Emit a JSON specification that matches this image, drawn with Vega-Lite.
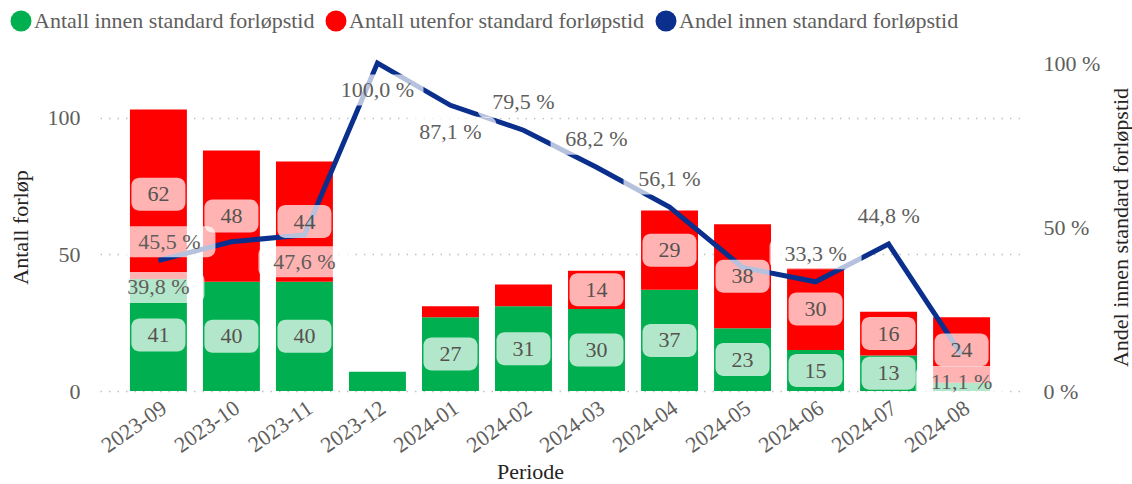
{
  "$schema": "https://vega.github.io/schema/vega-lite/v6.json",
  "width": 920,
  "height": 328,
  "autosize": {"type": "none"},
  "padding": {"left": 100, "top": 63, "right": 112, "bottom": 93},
  "background": "white",
  "config": {
    "view": {"stroke": null},
    "font": "Liberation Serif",
    "text": {"font": "Liberation Serif"},
    "axis": {"labelFont": "Liberation Serif", "titleFont": "Liberation Serif"},
    "legend": {"labelFont": "Liberation Serif"}
  },
  "datasets": {
    "antall": [
      {"Periode": "2023-09", "Serie": "Antall innen standard forløpstid", "Antall": 41},
      {"Periode": "2023-09", "Serie": "Antall utenfor standard forløpstid", "Antall": 62},
      {"Periode": "2023-10", "Serie": "Antall innen standard forløpstid", "Antall": 40},
      {"Periode": "2023-10", "Serie": "Antall utenfor standard forløpstid", "Antall": 48},
      {"Periode": "2023-11", "Serie": "Antall innen standard forløpstid", "Antall": 40},
      {"Periode": "2023-11", "Serie": "Antall utenfor standard forløpstid", "Antall": 44},
      {"Periode": "2023-12", "Serie": "Antall innen standard forløpstid", "Antall": 7},
      {"Periode": "2023-12", "Serie": "Antall utenfor standard forløpstid", "Antall": 0},
      {"Periode": "2024-01", "Serie": "Antall innen standard forløpstid", "Antall": 27},
      {"Periode": "2024-01", "Serie": "Antall utenfor standard forløpstid", "Antall": 4},
      {"Periode": "2024-02", "Serie": "Antall innen standard forløpstid", "Antall": 31},
      {"Periode": "2024-02", "Serie": "Antall utenfor standard forløpstid", "Antall": 8},
      {"Periode": "2024-03", "Serie": "Antall innen standard forløpstid", "Antall": 30},
      {"Periode": "2024-03", "Serie": "Antall utenfor standard forløpstid", "Antall": 14},
      {"Periode": "2024-04", "Serie": "Antall innen standard forløpstid", "Antall": 37},
      {"Periode": "2024-04", "Serie": "Antall utenfor standard forløpstid", "Antall": 29},
      {"Periode": "2024-05", "Serie": "Antall innen standard forløpstid", "Antall": 23},
      {"Periode": "2024-05", "Serie": "Antall utenfor standard forløpstid", "Antall": 38},
      {"Periode": "2024-06", "Serie": "Antall innen standard forløpstid", "Antall": 15},
      {"Periode": "2024-06", "Serie": "Antall utenfor standard forløpstid", "Antall": 30},
      {"Periode": "2024-07", "Serie": "Antall innen standard forløpstid", "Antall": 13},
      {"Periode": "2024-07", "Serie": "Antall utenfor standard forløpstid", "Antall": 16},
      {"Periode": "2024-08", "Serie": "Antall innen standard forløpstid", "Antall": 3},
      {"Periode": "2024-08", "Serie": "Antall utenfor standard forløpstid", "Antall": 24}
    ],
    "andel": [
      {"Periode": "2023-09", "Andel": 0.398},
      {"Periode": "2023-10", "Andel": 0.455},
      {"Periode": "2023-11", "Andel": 0.476},
      {"Periode": "2023-12", "Andel": 1.0},
      {"Periode": "2024-01", "Andel": 0.871},
      {"Periode": "2024-02", "Andel": 0.795},
      {"Periode": "2024-03", "Andel": 0.682},
      {"Periode": "2024-04", "Andel": 0.561},
      {"Periode": "2024-05", "Andel": 0.377},
      {"Periode": "2024-06", "Andel": 0.333},
      {"Periode": "2024-07", "Andel": 0.448},
      {"Periode": "2024-08", "Andel": 0.111}
    ]
  },
  "layer": [
    {
      "data": {"name": "antall"},
      "mark": {"type": "bar"},
      "encoding": {
        "x": {
          "field": "Periode", "type": "ordinal",
          "scale": {"paddingInner": 0.22, "paddingOuter": 0.41},
          "axis": {
            "title": "Periode", "titleFontSize": 22, "titleColor": "#252423", "titleFontWeight": "normal",
            "titleX": 430, "titleY": 87, "titleBaseline": "alphabetic", "titleAlign": "center",
            "labelAngle": -35, "labelFontSize": 22, "labelColor": "#605E5C",
            "domain": false, "ticks": false, "labelPadding": 6
          }
        },
        "y": {
          "field": "Antall", "type": "quantitative", "stack": "zero",
          "scale": {"domain": [0, 120], "nice": false},
          "axis": {
            "orient": "left", "values": [0, 50, 100], "title": "Antall forløp",
            "titleFontSize": 22, "titleColor": "#252423", "titleFontWeight": "normal",
            "titleAngle": -90, "titleX": -80, "titleY": 164, "titleAlign": "center", "titleBaseline": "middle",
            "labelFontSize": 22, "labelColor": "#605E5C", "labelPadding": 20,
            "domain": false, "ticks": false,
            "grid": true, "gridDash": [1.5, 7], "gridColor": "#C3C1BF", "gridWidth": 1.5
          }
        },
        "color": {
          "field": "Serie", "type": "nominal",
          "scale": {
            "domain": ["Antall innen standard forløpstid", "Antall utenfor standard forløpstid", "Andel innen standard forløpstid"],
            "range": ["#00B050", "#FF0000", "#0A2F8C"]
          },
          "legend": {
            "orient": "none", "legendX": -90, "legendY": -53, "direction": "horizontal",
            "title": null, "symbolType": "circle", "symbolSize": 440, "symbolStrokeWidth": 0,
            "labelFontSize": 22, "labelColor": "#605E5C", "labelOffset": 2, "columnPadding": 10, "labelLimit": 400
          }
        },
        "order": {"field": "Serie", "sort": "ascending"}
      }
    },
    {
      "data": {"name": "andel"},
      "mark": {"type": "line", "color": "#0A2F8C", "strokeWidth": 5},
      "encoding": {
        "x": {"field": "Periode", "type": "ordinal"},
        "y": {
          "field": "Andel", "type": "quantitative",
          "scale": {"domain": [0, 1], "nice": false},
          "axis": {
            "orient": "right", "values": [0, 0.5, 1],
            "labelExpr": "format(datum.value*100,'.0f') + ' %'",
            "title": "Andel innen standard forløpstid",
            "titleFontSize": 22, "titleColor": "#252423", "titleFontWeight": "normal",
            "titleAngle": -90, "titleX": 100, "titleY": 164, "titleAlign": "center", "titleBaseline": "middle",
            "labelFontSize": 22, "labelColor": "#605E5C", "labelPadding": 23,
            "domain": false, "ticks": false, "grid": false
          }
        }
      }
    },
    {
      "data": {"name": "antall"},
      "transform": [
        {"stack": "Antall", "groupby": ["Periode"], "sort": [{"field": "Serie", "order": "ascending"}], "as": ["s0", "s1"]},
        {"calculate": "(datum.s0 + datum.s1) / 2", "as": "Midt"},
        {"filter": "datum.Antall >= 10"}
      ],
      "mark": {"type": "rect", "width": 54, "height": 33, "cornerRadius": 8, "fill": "white", "opacity": 0.7},
      "encoding": {
        "x": {"field": "Periode", "type": "ordinal"},
        "y": {"field": "Midt", "type": "quantitative", "scale": {"domain": [0, 120], "nice": false}, "axis": null}
      }
    },
    {
      "data": {"name": "antall"},
      "transform": [
        {"stack": "Antall", "groupby": ["Periode"], "sort": [{"field": "Serie", "order": "ascending"}], "as": ["s0", "s1"]},
        {"calculate": "(datum.s0 + datum.s1) / 2", "as": "Midt"},
        {"filter": "datum.Antall >= 10"}
      ],
      "mark": {"type": "text", "fontSize": 22, "color": "#55524F", "align": "center", "baseline": "middle"},
      "encoding": {
        "x": {"field": "Periode", "type": "ordinal"},
        "y": {"field": "Midt", "type": "quantitative", "scale": {"domain": [0, 120], "nice": false}, "axis": null},
        "text": {"field": "Antall", "type": "quantitative"}
      }
    },
    {
      "data": {"name": "andel"},
      "transform": [{"filter": {"field": "Periode", "oneOf": ["2023-09", "2023-11", "2023-12", "2024-01", "2024-08"]}}],
      "mark": {"type": "rect", "width": 92, "height": 31, "cornerRadius": 8, "fill": "white", "opacity": 0.7, "yOffset": 27},
      "encoding": {
        "x": {"field": "Periode", "type": "ordinal"},
        "y": {"field": "Andel", "type": "quantitative", "scale": {"domain": [0, 1], "nice": false}, "axis": null}
      }
    },
    {
      "data": {"name": "andel"},
      "transform": [{"filter": {"field": "Periode", "oneOf": ["2024-02", "2024-03", "2024-04", "2024-06", "2024-07"]}}],
      "mark": {"type": "rect", "width": 92, "height": 31, "cornerRadius": 8, "fill": "white", "opacity": 0.7, "yOffset": -28},
      "encoding": {
        "x": {"field": "Periode", "type": "ordinal"},
        "y": {"field": "Andel", "type": "quantitative", "scale": {"domain": [0, 1], "nice": false}, "axis": null}
      }
    },
    {
      "data": {"name": "andel"},
      "transform": [{"filter": {"field": "Periode", "oneOf": ["2023-10"]}}],
      "mark": {"type": "rect", "width": 92, "height": 31, "cornerRadius": 8, "fill": "white", "opacity": 0.7, "xOffset": -62},
      "encoding": {
        "x": {"field": "Periode", "type": "ordinal"},
        "y": {"field": "Andel", "type": "quantitative", "scale": {"domain": [0, 1], "nice": false}, "axis": null}
      }
    },
    {
      "data": {"name": "andel"},
      "transform": [
        {"filter": {"field": "Periode", "oneOf": ["2023-09", "2023-11", "2023-12", "2024-01", "2024-08"]}},
        {"calculate": "replace(format(datum.Andel*100,'.1f'),'.',',') + ' %'", "as": "Etikett"}
      ],
      "mark": {"type": "text", "fontSize": 22, "color": "#605E5C", "align": "center", "baseline": "middle", "dy": 27},
      "encoding": {
        "x": {"field": "Periode", "type": "ordinal"},
        "y": {"field": "Andel", "type": "quantitative", "scale": {"domain": [0, 1], "nice": false}, "axis": null},
        "text": {"field": "Etikett", "type": "nominal"}
      }
    },
    {
      "data": {"name": "andel"},
      "transform": [
        {"filter": {"field": "Periode", "oneOf": ["2024-02", "2024-03", "2024-04", "2024-06", "2024-07"]}},
        {"calculate": "replace(format(datum.Andel*100,'.1f'),'.',',') + ' %'", "as": "Etikett"}
      ],
      "mark": {"type": "text", "fontSize": 22, "color": "#605E5C", "align": "center", "baseline": "middle", "dy": -28},
      "encoding": {
        "x": {"field": "Periode", "type": "ordinal"},
        "y": {"field": "Andel", "type": "quantitative", "scale": {"domain": [0, 1], "nice": false}, "axis": null},
        "text": {"field": "Etikett", "type": "nominal"}
      }
    },
    {
      "data": {"name": "andel"},
      "transform": [
        {"filter": {"field": "Periode", "oneOf": ["2023-10"]}},
        {"calculate": "replace(format(datum.Andel*100,'.1f'),'.',',') + ' %'", "as": "Etikett"}
      ],
      "mark": {"type": "text", "fontSize": 22, "color": "#605E5C", "align": "center", "baseline": "middle", "dx": -62},
      "encoding": {
        "x": {"field": "Periode", "type": "ordinal"},
        "y": {"field": "Andel", "type": "quantitative", "scale": {"domain": [0, 1], "nice": false}, "axis": null},
        "text": {"field": "Etikett", "type": "nominal"}
      }
    }
  ],
  "resolve": {"scale": {"y": "independent"}, "axis": {"y": "independent"}}
}
